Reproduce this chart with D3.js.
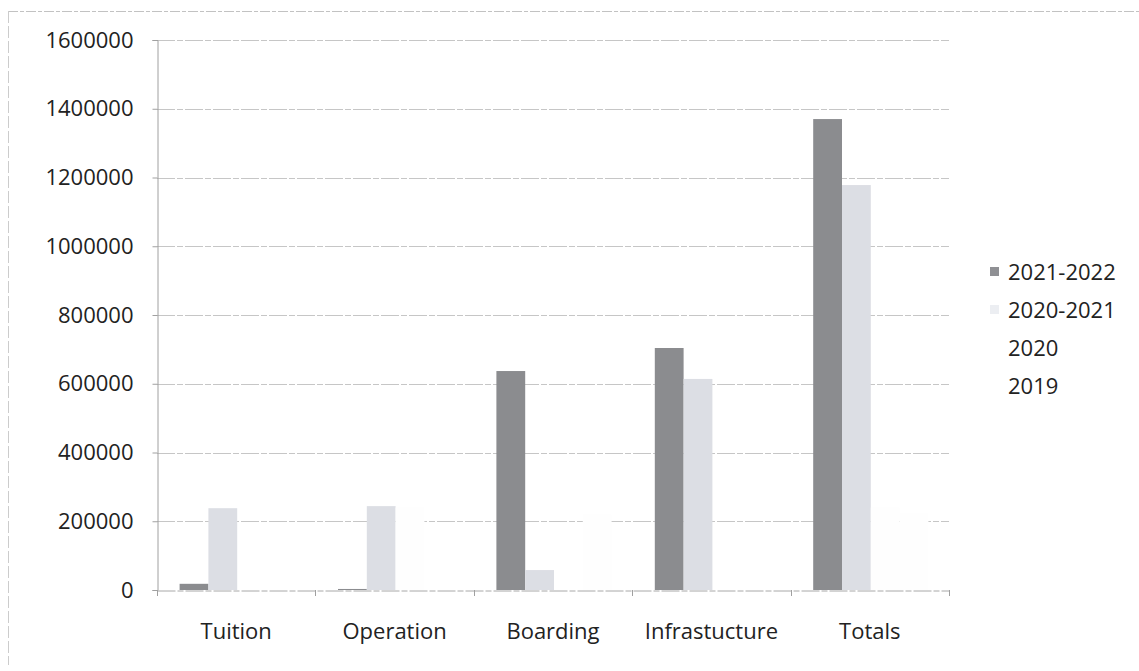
<!DOCTYPE html>
<html>
<head>
<meta charset="utf-8">
<script src="https://cdn.jsdelivr.net/npm/d3@7"></script>
<style>
  html, body { margin: 0; padding: 0; background: #ffffff; }
  svg { display: block; }
  text { font-family: "Open Sans", "Noto Sans", sans-serif; fill: #222; }
</style>
</head>
<body>
<script>
// ---- data ----
const categories = ["Tuition", "Operation", "Boarding", "Infrastucture", "Totals"];
const seriesNames = ["2021-2022", "2020-2021", "2020", "2019"];
const values2021_2022 = [18000, 3000, 637000, 704000, 1370000];
const values2020_2021 = [238000, 244000, 58000, 614000, 1178000];
const values2020 = [0, 240000, 0, 0, 240000];
const values2019 = [0, 0, 220000, 0, 225000];
const seriesColors = ["#8b8c8f", "#dcdee4", "#fefefe", "#fefefe"];
const yTicks = [0, 200000, 400000, 600000, 800000, 1000000, 1200000, 1400000, 1600000];

const seriesValues = [values2021_2022, values2020_2021, values2020, values2019];

const W = 1139, H = 671;
const plot = { left: 157, right: 949, top: 40, bottom: 590 };

const svg = d3.select("body").append("svg").attr("width", W).attr("height", H);

// outer chart frame (top and left edges visible)
svg.append("line").attr("x1", 8).attr("x2", W).attr("y1", 11.5).attr("y2", 11.5)
  .attr("stroke", "#c2c2c2").attr("stroke-width", 1).attr("stroke-dasharray", "10 2 4 2");
svg.append("line").attr("x1", 8.5).attr("x2", 8.5).attr("y1", 11).attr("y2", 665)
  .attr("stroke", "#cccccc").attr("stroke-width", 1).attr("stroke-dasharray", "12 3");

const y = d3.scaleLinear().domain([0, 1600000]).range([plot.bottom, plot.top]);
const x0 = d3.scaleBand().domain(categories).range([plot.left, plot.right]).padding(0);
const bw = x0.bandwidth();
const gapHalf = bw * 0.75 / 5.5;
const x1 = d3.scaleBand().domain(seriesNames).range([gapHalf, bw - gapHalf]).padding(0);

// gridlines
svg.append("g").selectAll("line").data(yTicks.filter(d => d > 0)).join("line")
  .attr("x1", plot.left).attr("x2", plot.right)
  .attr("y1", d => Math.round(y(d)) + 0.5).attr("y2", d => Math.round(y(d)) + 0.5)
  .attr("stroke", "#c6c6c6").attr("stroke-width", 1).attr("stroke-dasharray", "18 2 6 2");

// bars
const barData = [];
categories.forEach((c, i) => {
  seriesNames.forEach((s, j) => {
    barData.push({ cat: c, ser: s, val: seriesValues[j][i], color: seriesColors[j] });
  });
});
svg.append("g").selectAll("rect").data(barData).join("rect")
  .attr("x", d => x0(d.cat) + x1(d.ser) + 1)
  .attr("y", d => y(d.val))
  .attr("width", x1.bandwidth())
  .attr("height", d => y(0) - y(d.val))
  .attr("fill", d => d.color);

// y axis
const yAxis = d3.axisLeft(y).tickValues(yTicks).tickFormat(d3.format("d")).tickSize(5).tickPadding(19);
const gy = svg.append("g").attr("transform", `translate(${plot.left + 0.5},0)`).call(yAxis);
gy.select(".domain").attr("stroke", "#a0a0a0");
gy.selectAll(".tick line").attr("stroke", "#a0a0a0");
gy.selectAll(".tick text").style("font-size", "22px").style("font-family", "'Open Sans', sans-serif").attr("fill", "#222");

// x axis
const xAxis = d3.axisBottom(x0).tickSize(0).tickPadding(33);
const gx = svg.append("g").attr("transform", `translate(0,${plot.bottom + 0.5})`).call(xAxis);
gx.select(".domain").attr("stroke", "#a8a8a8").attr("stroke-dasharray", "18 2 6 2");
gx.selectAll(".tick text").style("font-size", "22px").style("font-family", "'Open Sans', sans-serif").attr("fill", "#222");
// category boundary ticks
const boundaries = categories.map(c => x0(c)).concat([plot.right]);
svg.append("g").selectAll("line").data(boundaries).join("line")
  .attr("x1", d => Math.round(d) + 0.5).attr("x2", d => Math.round(d) + 0.5)
  .attr("y1", plot.bottom).attr("y2", plot.bottom + 6)
  .attr("stroke", "#a0a0a0");

// legend
const legend = svg.append("g").attr("transform", "translate(990,272)");
const li = legend.selectAll("g").data(seriesNames).join("g")
  .attr("transform", (d, i) => `translate(0,${i * 38})`);
li.append("rect").attr("x", 0).attr("y", -5).attr("width", 9).attr("height", 9)
  .attr("fill", (d, i) => i === 0 ? "#8f9094" : (i === 1 ? "#eceef2" : "#ffffff"));
li.append("text").attr("x", 18).attr("y", 0).attr("dy", "0.35em")
  .style("font-size", "22px").text(d => d);
</script>
</body>
</html>
